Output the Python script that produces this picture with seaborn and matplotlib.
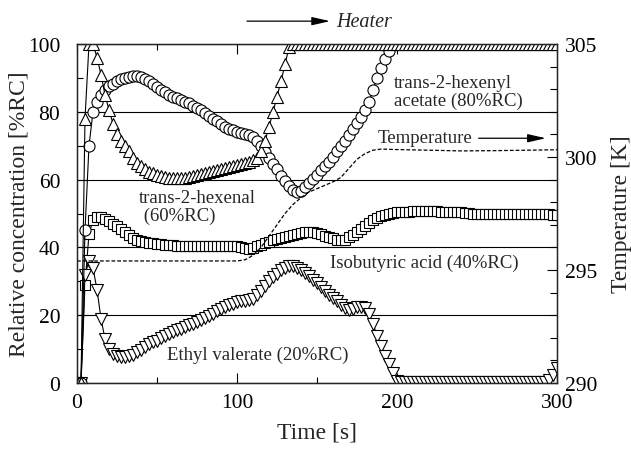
import numpy as np
import pandas as pd
import seaborn as sns
import matplotlib
matplotlib.use("Agg")
import matplotlib.pyplot as plt
from matplotlib.ticker import MultipleLocator

# ---------------- data ----------------
time_s = [
    0, 2.5, 5, 7.5, 10, 12.5, 15, 17.5, 20, 22.5, 25, 27.5, 30, 32.5, 35, 37.5,
    40, 42.5, 45, 47.5, 50, 52.5, 55, 57.5, 60, 62.5, 65, 67.5, 70, 72.5, 75, 77.5,
    80, 82.5, 85, 87.5, 90, 92.5, 95, 97.5, 100, 102.5, 105, 107.5, 110, 112.5, 115, 117.5,
    120, 122.5, 125, 127.5, 130, 132.5, 135, 137.5, 140, 142.5, 145, 147.5, 150, 152.5, 155, 157.5,
    160, 162.5, 165, 167.5, 170, 172.5, 175, 177.5, 180, 182.5, 185, 187.5, 190, 192.5, 195, 197.5,
    200, 202.5, 205, 207.5, 210, 212.5, 215, 217.5, 220, 222.5, 225, 227.5, 230, 232.5, 235, 237.5,
    240, 242.5, 245, 247.5, 250, 252.5, 255, 257.5, 260, 262.5, 265, 267.5, 270, 272.5, 275, 277.5,
    280, 282.5, 285, 287.5, 290, 292.5, 295, 297.5, 300,
]

# trans-2-hexenyl acetate (80%RC) - circles (off-scale after ~198 s)
hexenyl_acetate = [
    0, 0, 45, 70, 80, 83, 85, 86.5, 87.5, 88.3, 89, 89.6, 90, 90.4, 90.6, 90.6,
    90.4, 89.8, 89, 88.2, 87.3, 86.5, 85.7, 85, 84.4, 84, 83.5, 83, 82.5, 81.8, 81.2, 80.5,
    79.7, 78.8, 78, 77.3, 76.5, 75.6, 75, 74.5, 74, 73.7, 73.4, 73.2, 72.5, 71.5, 70, 68,
    66.3, 64.5, 63, 61.2, 59.5, 58, 57, 56.3, 56.7, 57.8, 59, 60.3, 61.5, 62.8, 64, 65.3,
    66.8, 68.3, 70, 71.5, 73.3, 75, 76.8, 78.6, 80.5, 83, 86.5, 90, 93, 95.6, 98, 101,
    np.nan, np.nan, np.nan, np.nan, np.nan, np.nan, np.nan, np.nan, np.nan, np.nan, np.nan, np.nan,
    np.nan, np.nan, np.nan, np.nan, np.nan, np.nan, np.nan, np.nan, np.nan, np.nan, np.nan, np.nan,
    np.nan, np.nan, np.nan, np.nan, np.nan, np.nan, np.nan, np.nan, np.nan, np.nan, np.nan, np.nan,
    np.nan, np.nan, np.nan, np.nan, np.nan,
]

# trans-2-hexenal (60%RC) - up triangles
hexenal = [
    0, 0, 78, 100, 100, 96, 91, 85, 80.5, 76.5, 73.5, 71.5, 70, 68.3, 66.5, 65,
    64, 63, 62.3, 61.8, 61.3, 61, 60.8, 60.6, 60.5, 60.5, 60.5, 60.6, 60.8, 61, 61.3, 61.7,
    62, 62.3, 62.6, 62.9, 63.2, 63.5, 63.8, 64.1, 64.4, 64.7, 65, 65.3, 65.7, 66.5, 68.5, 71.5,
    75.5, 80, 84.5, 89, 94, 99, 100, 100, 100, 100, 100, 100, 100, 100, 100, 100,
    100, 100, 100, 100, 100, 100, 100, 100, 100, 100, 100, 100, 100, 100, 100, 100,
    100, 100, 100, 100, 100, 100, 100, 100, 100, 100, 100, 100, 100, 100, 100, 100,
    100, 100, 100, 100, 100, 100, 100, 100, 100, 100, 100, 100, 100, 100, 100, 100,
    100, 100, 100, 100, 100, 100, 100, 100, 100,
]

# Isobutyric acid (40%RC) - squares
isobutyric = [
    0, 0, 29, 44, 48, 49, 49, 48.3, 47.7, 47, 46.3, 45.5, 44.5, 43.6, 42.8, 42.2,
    41.8, 41.6, 41.4, 41.2, 41, 40.9, 40.8, 40.7, 40.6, 40.5, 40.5, 40.5, 40.5, 40.5, 40.5, 40.5,
    40.5, 40.5, 40.5, 40.5, 40.5, 40.5, 40.4, 40.4, 40.3, 40, 39.7, 39.5, 39.7, 40.3, 40.8, 41.3,
    41.7, 42.1, 42.5, 42.8, 43.1, 43.4, 43.7, 44, 44.3, 44.5, 44.6, 44.5, 44.2, 43.9, 43.5, 43.1,
    42.7, 42.3, 42.1, 42.3, 43, 43.8, 44.6, 45.5, 46.4, 47.2, 48, 48.7, 49.3, 49.7, 50, 50.2,
    50.3, 50.4, 50.5, 50.5, 50.6, 50.6, 50.6, 50.6, 50.6, 50.6, 50.6, 50.5, 50.5, 50.4, 50.4, 50.3,
    50.3, 50.2, 50.1, 50, 50, 50, 50, 50, 50, 50, 50, 50, 50, 50, 50, 50,
    50, 50, 50, 50, 50, 49.9, 49.8, 49.7, 49.5,
]

# Ethyl valerate (20%RC) - down triangles
ethyl_valerate = [
    0, 0, 32, 36, 34, 27.5, 19, 13, 10, 8.6, 8, 7.7, 7.7, 8, 8.4, 9,
    9.8, 10.7, 11.5, 12, 12.5, 13.2, 13.8, 14.4, 15, 15.5, 16, 16.5, 17, 17.5, 18, 18.7,
    19.3, 19.9, 20.5, 21.1, 21.8, 22.4, 23, 23.4, 23.8, 24.1, 24.3, 24.5, 24.8, 26, 27.2, 28.5,
    30, 31.2, 32.2, 33.2, 34, 34.4, 34.4, 34, 33.2, 32.4, 31.6, 30.5, 29.4, 28.3, 27.2, 26.1,
    25.1, 24.1, 23, 22, 21.4, 21.8, 22.3, 22.3, 22, 20.5, 17.5, 14, 11, 8, 5.5, 3,
    0.5, 0.3, 0.3, 0.3, 0.3, 0.3, 0.3, 0.3, 0.3, 0.3, 0.3, 0.3, 0.3, 0.3, 0.3, 0.3,
    0.3, 0.3, 0.3, 0.3, 0.3, 0.3, 0.3, 0.3, 0.3, 0.3, 0.3, 0.3, 0.3, 0.3, 0.3, 0.3,
    0.3, 0.3, 0.3, 0.3, 0.3, 0.3, 1, 2.5, 4.5,
]

# Temperature [K] (dashed, right axis)
temp_time = [0, 100, 105, 110, 115, 120, 125, 130, 135, 140, 145, 150, 155, 160, 165,
             170, 175, 180, 185, 190, 200, 220, 240, 260, 280, 300]
temp_K = [295.4, 295.4, 295.45, 295.65, 296.0, 296.5, 297.0, 297.5, 297.9, 298.2, 298.45,
          298.6, 298.75, 298.9, 299.1, 299.5, 299.9, 300.15, 300.3, 300.35, 300.33, 300.3,
          300.27, 300.28, 300.3, 300.32]

# ---------------- figure ----------------
sns.set_style("ticks")
plt.rcParams["font.family"] = ["Liberation Serif", "DejaVu Serif"]

fig = plt.figure(figsize=(6.31, 4.52), dpi=100)
ax = fig.add_axes([77 / 631, 1 - 384 / 452, 480 / 631, 339 / 452])

df = pd.DataFrame({"t": time_s, "ac": hexenyl_acetate, "al": hexenal,
                   "iso": isobutyric, "ev": ethyl_valerate})

common = dict(color="black", linewidth=0.8, markerfacecolor="white",
              markeredgecolor="black", markeredgewidth=0.8, ax=ax,
              estimator=None, sort=False)

sns.lineplot(data=df, x="t", y="iso", marker="s", markersize=7.5, **common)
sns.lineplot(data=df, x="t", y="ev", marker="v", markersize=8.5, **common)
sns.lineplot(data=df, x="t", y="ac", marker="o", markersize=8, **common)
sns.lineplot(data=df, x="t", y="al", marker="^", markersize=8.5, **common)

ax.set_xlim(0, 300)
ax.set_ylim(0, 100)
ax.xaxis.set_major_locator(MultipleLocator(100))
ax.xaxis.set_minor_locator(MultipleLocator(50))
ax.yaxis.set_major_locator(MultipleLocator(20))
ax.yaxis.set_minor_locator(MultipleLocator(10))
ax.yaxis.grid(True, which="major", color="black", linewidth=0.8)
ax.set_axisbelow(True)
ax.tick_params(which="both", direction="in", top=True, right=False,
               labelsize=15.5, colors="black")
ax.tick_params(axis="y", which="both", pad=12)
ax.tick_params(axis="x", which="both", pad=7)
ax.tick_params(which="major", length=7, width=0.8)
ax.tick_params(which="minor", length=4, width=0.8)
for sp in ax.spines.values():
    sp.set_linewidth(0.9)
    sp.set_color("black")

ax2 = ax.twinx()
tdf = pd.DataFrame({"t": temp_time, "K": temp_K})
sns.lineplot(data=tdf, x="t", y="K", ax=ax2, color="black", linewidth=0.9,
             linestyle=(0, (3, 1.6)), estimator=None, sort=False)
ax2.set_ylim(290, 305)
ax2.yaxis.set_major_locator(MultipleLocator(5))
ax2.yaxis.set_minor_locator(MultipleLocator(1))
ax2.tick_params(which="both", direction="in", labelsize=15.5, colors="black", pad=5.5)
ax2.tick_params(which="major", length=7, width=0.8)
ax2.tick_params(which="minor", length=5, width=0.8)
ax2.set_ylabel("Temperature [K]", fontsize=17, labelpad=10)
ax2.set_xlabel("")
for sp in ax2.spines.values():
    sp.set_linewidth(0.9)
ax.set_xlabel("Time [s]", fontsize=17, labelpad=7)
ax.set_ylabel("Relative concentration [%RC]", fontsize=17)
ax.yaxis.set_label_coords(-0.098, 0.5)

# ---------------- annotations ----------------
fs = 13.5
ax.text(198, 86, "trans-2-hexenyl\nacetate (80%RC)", fontsize=fs, ha="left",
        va="center", linespacing=1.05)
ax.text(38.5, 52, "trans-2-hexenal\n (60%RC)", fontsize=fs, ha="left",
        va="center", linespacing=1.05)
ax.text(158, 35.5, "Isobutyric acid (40%RC)", fontsize=fs, ha="left", va="center")
ax.text(56, 8.5, "Ethyl valerate (20%RC)", fontsize=fs, ha="left", va="center")
ax.text(188, 72.5, "Temperature", fontsize=fs, ha="left", va="center")
ax.annotate("", xy=(293, 72.2), xytext=(251, 72.2),
            arrowprops=dict(arrowstyle="-|>,head_length=1.1,head_width=0.25",
                            color="black", lw=0.9, shrinkA=0, shrinkB=0))
ax.annotate("", xy=(330 / 631, 0.951), xytext=(247 / 631, 0.951),
            xycoords="figure fraction", textcoords="figure fraction",
            arrowprops=dict(arrowstyle="-|>,head_length=1.1,head_width=0.25",
                            color="black", lw=0.9, shrinkA=0, shrinkB=0))
fig.text(336 / 631, 0.951, "Heater", fontsize=14.5, style="italic", ha="left", va="center")

fig.savefig("out.png", dpi=100)
